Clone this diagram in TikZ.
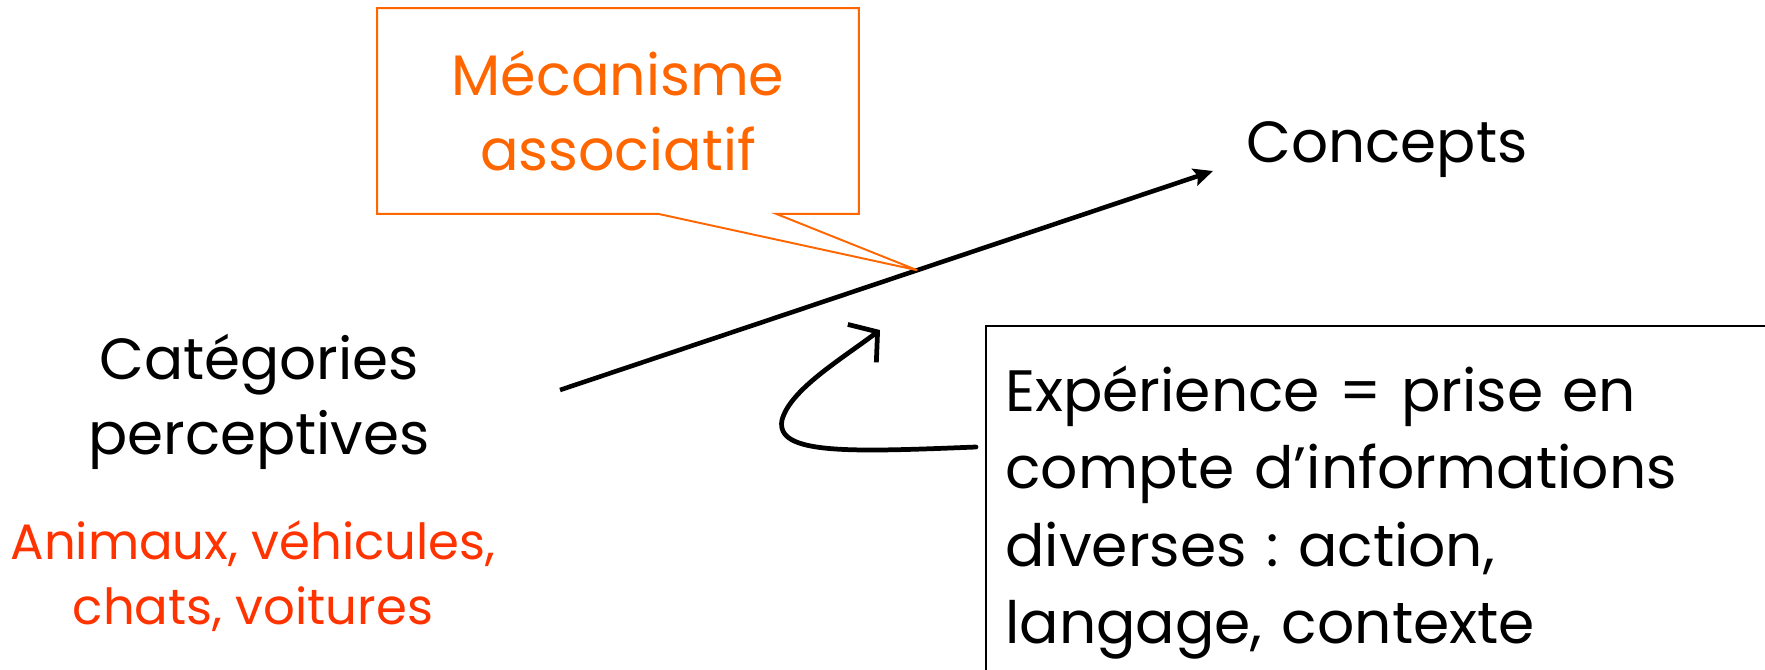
\documentclass[tikz,border=0pt]{standalone}
\usepackage{fontspec}
\setmainfont{Poppins}
\usetikzlibrary{calc}
\usetikzlibrary{arrows.meta}
\definecolor{mechorange}{HTML}{FF6600}
\definecolor{examplered}{HTML}{FF3300}

\begin{document}
\frenchspacing
\begin{tikzpicture}[x=0.2mm, y=-0.2mm,
        bigtext/.style={font=\fontsize{33}{43}\selectfont, align=center, inner sep=0pt},
        mechtext/.style={bigtext, font=\fontsize{32.5}{43}\selectfont, text=mechorange,
            minimum width=96.2mm, minimum height=41mm},
        smalltext/.style={font=\fontsize{28.3}{37}\selectfont, align=center, inner sep=0pt, text=examplered},
        exptext/.style={font=\fontsize{33.2}{44}\selectfont, align=left,
            text width=170mm, inner xsep=3.8mm, inner ysep=7.9mm},
        boxline/.style={line width=1pt},
        orangeline/.style={draw=mechorange, line width=1.1pt, line join=miter},
        thickarrow/.style={line width=2.6pt, -{Stealth[length=11pt, width=10pt, inset=2pt]}},
        looparrow/.style={line width=2.7pt, line cap=round, -{Straight Barb[length=11pt, width=27pt]}}]
        \useasboundingbox (0,0) rectangle (1765,669);
        \node[mechtext] (mech) at (618,111) {Mécanisme\\associatif};
        \node[bigtext] (concepts) at (1387,150) {Concepts};
        \node[bigtext] (cat) at (259,402) {Catégories\\perceptives};
        \node[smalltext] (ex) at (253,576) {Animaux, véhicules,\\chats, voitures};
        \node[exptext, anchor=north west] (exp) at (986,326) {Expérience = prise en\\compte d’informations\\diverses : action,\\langage, contexte};
        \draw[boxline] ($(exp.south west)+(0,80)$) -- (exp.north west) -- ($(exp.north east)+(80,0)$);
        \coordinate (from) at (560,390);
        \coordinate (to) at (1213,171);
        \draw[thickarrow] (from) -- (to) coordinate[pos=0.547] (tip);
        \draw[orangeline] (mech.south west) -- (mech.north west) -- (mech.north east)
            -- (mech.south east) -- ($(mech.south west)+(399,0)$) -- (tip)
            -- ($(mech.south west)+(281,0)$) -- cycle;
        \coordinate (loopstart) at (976,447);
        \coordinate (looptip) at (880,330);
        \draw[looparrow] (loopstart) .. controls (850,452) and (775,455) .. (782,420)
            .. controls (790,390) and (840,360) .. (looptip);
    \end{tikzpicture}
\end{document}
